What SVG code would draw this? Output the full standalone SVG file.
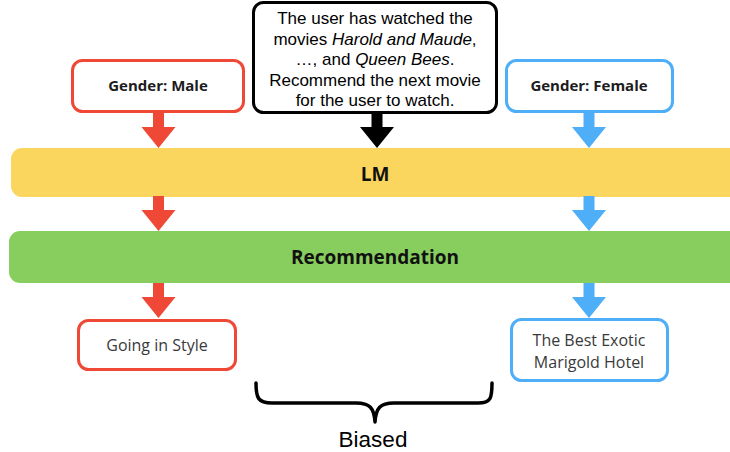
<svg xmlns="http://www.w3.org/2000/svg" width="730" height="452" viewBox="0 0 730 452">
<style>
.box{fill:#fff;stroke-width:3}
.red{stroke:#EF4836}
.blue{stroke:#4FAEF8}
.lab{font-family:"Open Sans","Noto Sans",sans-serif;font-weight:700;font-size:15px;fill:#1c1c1c;text-anchor:middle}
.out{font-family:"Open Sans","Noto Sans",sans-serif;font-size:16px;fill:#3a3a3a;text-anchor:middle}
.bar{font-family:"Open Sans","Noto Sans",sans-serif;font-weight:700;font-size:19px;fill:#111;text-anchor:middle}
.prompt{font-family:"Liberation Sans",Arial,sans-serif;font-size:17px;fill:#000;text-anchor:middle}
</style>
<defs>
<path id="arr" d="M-5.5,-35 H5.5 V-21 H17 L0,0 L-17,-21 H-5.5 Z"/>
</defs>
<rect width="730" height="452" fill="#fff"/>
<g id="lm">
<rect x="11" y="148" width="740" height="49" rx="11" fill="#FAD65E"/>
<text class="bar" x="375" y="181">LM</text>
</g>
<g id="recommendation">
<rect x="9" y="231" width="740" height="52" rx="11" fill="#88CE5E"/>
<text class="bar" x="375" y="264">Recommendation</text>
</g>
<g id="male">
<rect class="box red" x="72.5" y="60.5" width="171" height="51" rx="10"/>
<text class="lab" x="158" y="90.5">Gender: Male</text>
</g>
<g id="female">
<rect class="box blue" x="506.5" y="60.5" width="166" height="51" rx="10"/>
<text class="lab" x="589" y="90.5">Gender: Female</text>
</g>
<g id="prompt">
<rect x="253.5" y="2.5" width="243" height="110" rx="10" fill="#fff" stroke="#000" stroke-width="3"/>
<text class="prompt" x="375" y="24">The user has watched the</text>
<text class="prompt" x="375" y="44.5">movies <tspan font-style="italic">Harold and Maude</tspan>,</text>
<text class="prompt" x="375" y="65">…, and <tspan font-style="italic">Queen Bees</tspan>.</text>
<text class="prompt" x="375" y="85.5">Recommend the next movie</text>
<text class="prompt" x="375" y="106">for the user to watch.</text>
</g>
<g id="going">
<rect class="box red" x="78.5" y="320.5" width="157" height="49" rx="10"/>
<text class="out" x="157" y="351">Going in Style</text>
</g>
<g id="marigold">
<rect class="box blue" x="511.5" y="319.5" width="156" height="61" rx="10"/>
<text class="out" x="589" y="346">The Best Exotic</text>
<text class="out" x="589" y="368">Marigold Hotel</text>
</g>
<g id="connectors">
<use href="#arr" x="158.5" y="148" fill="#EF4836"/>
<use href="#arr" x="158.5" y="231" fill="#EF4836"/>
<use href="#arr" x="158.5" y="318" fill="#EF4836"/>
<use href="#arr" x="589" y="148" fill="#4FAEF8"/>
<use href="#arr" x="589" y="231" fill="#4FAEF8"/>
<use href="#arr" x="589" y="318" fill="#4FAEF8"/>
<use href="#arr" x="377" y="148" fill="#000"/>
</g>
<g id="biased">
<path d="M256,383 C256,398 258,403 272,403 L356,403 C370,403 374,408 375,422 C376,408 380,403 394,403 L478,403 C491,403 492,398 492,383" fill="none" stroke="#000" stroke-width="3.5" stroke-linecap="round" stroke-linejoin="round"/>
<text x="373" y="447" font-family="Liberation Sans,Arial,sans-serif" font-size="22.5" text-anchor="middle" fill="#000">Biased</text>
</g>
</svg>
